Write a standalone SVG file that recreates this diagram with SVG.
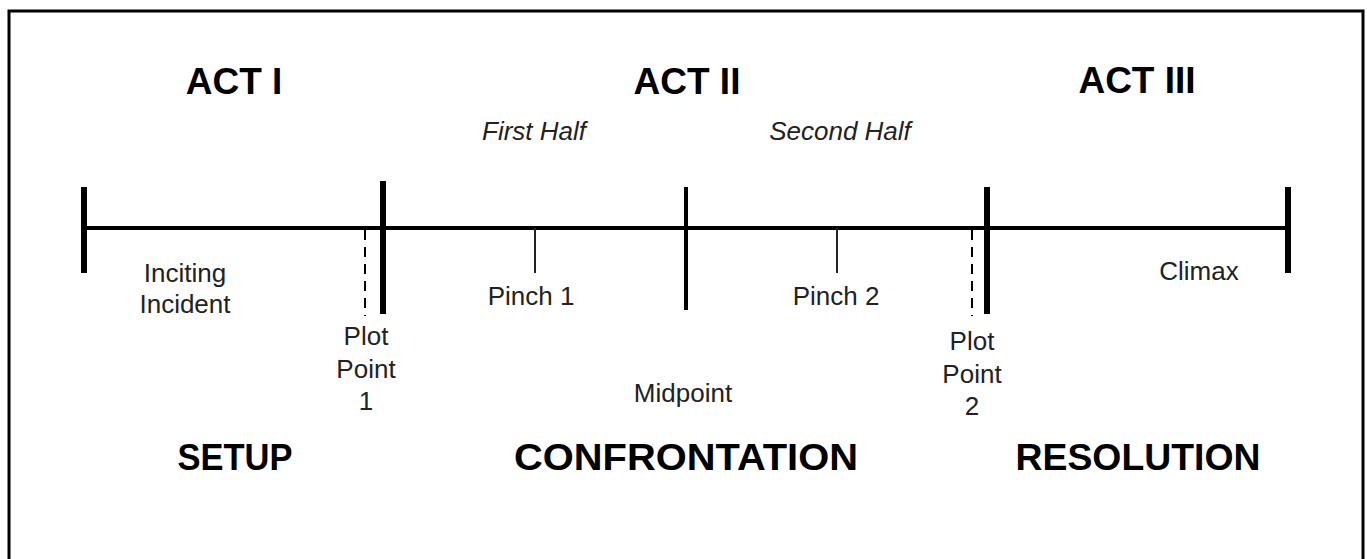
<svg xmlns="http://www.w3.org/2000/svg" width="1367" height="559" viewBox="0 0 1367 559">
<style>
.act{font-family:"Liberation Sans",Arial,sans-serif;font-weight:bold;font-size:37px;fill:#000;text-anchor:middle}
.half{font-family:"Liberation Sans",Arial,sans-serif;font-style:italic;font-size:26px;fill:#222;text-anchor:middle}
.lbl{font-family:"Liberation Sans",Arial,sans-serif;font-size:26px;fill:#222;text-anchor:middle}
.thick{stroke:#000;stroke-width:6;fill:none}
.mid{stroke:#000;stroke-width:4;fill:none}
.thin{stroke:#222;stroke-width:2;fill:none}
.dash{stroke:#000;stroke-width:2;stroke-dasharray:10,7;fill:none}
</style>
<rect width="1367" height="559" fill="#fff"/>
<path d="M9,570 V11 H1363 V570" fill="none" stroke="#000" stroke-width="3"/>
<g id="connectors">
<line x1="84" y1="228" x2="1288" y2="228" class="mid"/>
<line x1="84" y1="187" x2="84" y2="273" class="thick"/>
<line x1="1288" y1="187" x2="1288" y2="273" class="thick"/>
<line x1="383" y1="181" x2="383" y2="314" class="thick"/>
<line x1="987" y1="187" x2="987" y2="314" class="thick"/>
<line x1="686" y1="187" x2="686" y2="310" class="mid"/>
<line x1="535" y1="228" x2="535" y2="273" class="thin"/>
<line x1="837" y1="228" x2="837" y2="273" class="thin"/>
<line x1="365" y1="230" x2="365" y2="316" class="dash"/>
<line x1="972" y1="230" x2="972" y2="316" class="dash"/>
</g>
<g id="act1"><text x="234" y="94" class="act">ACT I</text></g>
<g id="act2"><text x="687" y="94" class="act">ACT II</text></g>
<g id="act3"><text x="1137" y="93" class="act">ACT III</text></g>
<g id="first-half"><text x="534" y="140" class="half">First Half</text></g>
<g id="second-half"><text x="840" y="140" class="half">Second Half</text></g>
<g id="inciting"><text x="185" y="282" class="lbl">Inciting</text><text x="185" y="313" class="lbl">Incident</text></g>
<g id="plot-point-1"><text x="366" y="345" class="lbl">Plot</text><text x="366" y="378" class="lbl">Point</text><text x="366" y="410" class="lbl">1</text></g>
<g id="pinch-1"><text x="531" y="305" class="lbl">Pinch 1</text></g>
<g id="midpoint"><text x="683" y="402" class="lbl">Midpoint</text></g>
<g id="pinch-2"><text x="836" y="305" class="lbl">Pinch 2</text></g>
<g id="plot-point-2"><text x="972" y="350" class="lbl">Plot</text><text x="972" y="383" class="lbl">Point</text><text x="972" y="415" class="lbl">2</text></g>
<g id="climax"><text x="1199" y="280" class="lbl">Climax</text></g>
<g id="setup"><text x="235" y="470" class="act" textLength="115" lengthAdjust="spacingAndGlyphs">SETUP</text></g>
<g id="confrontation"><text x="686" y="470" class="act" textLength="344" lengthAdjust="spacingAndGlyphs">CONFRONTATION</text></g>
<g id="resolution"><text x="1138" y="470" class="act" textLength="245" lengthAdjust="spacingAndGlyphs">RESOLUTION</text></g>
</svg>
